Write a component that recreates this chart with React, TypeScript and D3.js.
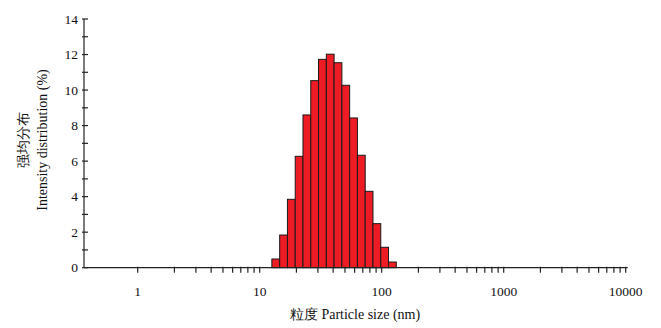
import React from 'react';
import * as d3 from 'd3';

// Malvern size classes (nm) and intensity (%)
const sizes = [13.54, 15.69, 18.17, 21.04, 24.36, 28.21, 32.67, 37.84, 43.82, 50.75, 58.77, 68.06, 78.82, 91.28, 105.7, 122.4];
const intensity = [0.49, 1.84, 3.85, 6.27, 8.6, 10.53, 11.73, 12.02, 11.54, 10.27, 8.43, 6.33, 4.3, 2.48, 1.15, 0.32];
const xMajor = [1, 10, 100, 1000, 10000];
const yTicks = [0, 2, 4, 6, 8, 10, 12, 14];
const binRatio = 1.1581;

const W = 661;
const H = 328;
const font = '"Liberation Serif", "Times New Roman", serif';

export default function App() {
    const x = d3.scaleLog().domain([0.363, 10000]).range([84, 625.7]);
    const y = d3.scaleLinear().domain([0, 14]).range([267.7, 19]);
    const x0 = x.range()[0];
    const y0 = y(0);

    // minor ticks 2..9 in each decade from 1 to 1000
    const xMinor: number[] = [];
    [1, 10, 100, 1000].forEach(d => {
        for (let k = 2; k <= 9; k++) xMinor.push(d * k);
    });
    const yMinor = d3.range(1, 14, 2);
    const half = Math.sqrt(binRatio);

    return (
        <svg width={W} height={H} style={{ position: 'absolute', left: 0, top: 0 }} fontFamily={font}>
            <rect width={W} height={H} fill="#fff" />

            {/* bars */}
            {sizes.map((s, i) => (
                <rect
                    key={s}
                    x={x(s / half)}
                    y={y(intensity[i])}
                    width={x(s * half) - x(s / half)}
                    height={y0 - y(intensity[i])}
                    fill="#ED1C24"
                    stroke="#1a1a1a"
                    strokeWidth={1}
                />
            ))}

            {/* y axis */}
            <line x1={x0} x2={x0} y1={y(14)} y2={y0} stroke="#222" strokeWidth={1.2} />
            {yTicks.map(t => (
                <g key={'y' + t}>
                    <line x1={x0 - 2} x2={x0 + 4} y1={y(t)} y2={y(t)} stroke="#222" strokeWidth={1.2} />
                    <text x={x0 - 6} y={y(t)} dy="0.35em" textAnchor="end" fontSize={13.5} fill="#111">{t}</text>
                </g>
            ))}
            {yMinor.map(t => (
                <line key={'ym' + t} x1={x0 - 2} x2={x0 + 4} y1={y(t)} y2={y(t)} stroke="#222" strokeWidth={1.2} />
            ))}

            {/* x axis */}
            <line x1={x0} x2={x(10000) + 2} y1={y0} y2={y0} stroke="#222" strokeWidth={1.2} />
            {xMajor.map(t => (
                <g key={'x' + t}>
                    <line x1={x(t)} x2={x(t)} y1={y0 - 1} y2={y0 + 5} stroke="#222" strokeWidth={1.2} />
                    <text x={x(t)} y={y0 + 28} textAnchor="middle" fontSize={13.5} fill="#111">{t}</text>
                </g>
            ))}
            {xMinor.map(t => (
                <line key={'xm' + t} x1={x(t)} x2={x(t)} y1={y0 - 1} y2={y0 + 5} stroke="#222" strokeWidth={1.2} />
            ))}

            {/* axis titles */}
            <text x={355} y={319} textAnchor="middle" fontSize={14} fill="#111">粒度 Particle size (nm)</text>
            <g transform="translate(28,140) rotate(-90)">
                <text x={0} y={0} textAnchor="middle" fontSize={14} fill="#111">强均分布</text>
                <text x={0} y={19} textAnchor="middle" fontSize={14} fill="#111">Intensity distribution (%)</text>
            </g>
        </svg>
    );
}
